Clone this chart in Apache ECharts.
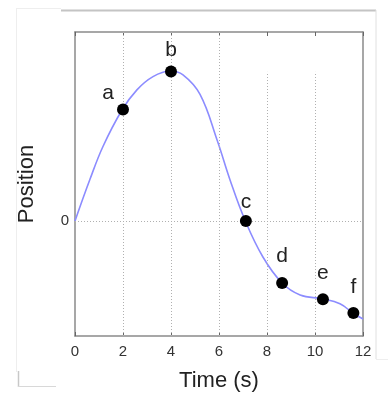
<!DOCTYPE html>
<html>
<head>
<meta charset="utf-8">
<script src="https://cdn.jsdelivr.net/npm/echarts@6/dist/echarts.min.js"></script>
<style>
  html, body { margin: 0; padding: 0; background: #fff; }
  #chart { width: 388px; height: 404px; }
</style>
</head>
<body>
<div id="chart"></div>
<script>
// curve (time, position)
let curveT = [0, 0.62, 1.17, 1.96, 2.58, 3.25, 3.96, 4.5, 5.21, 5.92, 6.46, 7.08, 7.83, 8.63, 9.38, 10.33, 11.04, 11.58, 12];
let curveY = [0, 0.36, 0.65, 0.965, 1.14, 1.255, 1.304, 1.27, 1.1, 0.704, 0.357, 0.009, -0.313, -0.539, -0.643, -0.678, -0.72, -0.8, -0.852];

// labelled points
let pointNames = ['a', 'b', 'c', 'd', 'e', 'f'];
let pointT = [2, 4, 7.12, 8.63, 10.33, 11.6];
let pointY = [0.97, 1.30, 0, -0.54, -0.68, -0.80];

let xTicks = [0, 2, 4, 6, 8, 10, 12];
let yTicks = [0];
// vertical grid lines: 8 and 10 stop short of the top in the original
let gridX = [2, 4, 6, 8, 10];
let gridTop = [1.643, 1.643, 1.643, 1.296, 1.296];

let yMin = -1, yMax = 1.643;

let labelStyle = {
  a: { position: 'left', offset: [2, -16] },
  b: { position: 'top', distance: 5 },
  c: { position: 'top', distance: 2 },
  d: { position: 'top', distance: 10 },
  e: { position: 'top', distance: 9 },
  f: { position: 'top', distance: 9 }
};

let chart = echarts.init(document.getElementById('chart'));

let font = 'Liberation Sans, Arial, Helvetica, sans-serif';
let frameLine = { show: true, onZero: false, lineStyle: { color: '#8a8a8a', width: 1.5 } };

let option = {
  animation: false,
  backgroundColor: '#fff',
  grid: { left: 75, right: 25, top: 32, bottom: 68, containLabel: false },
  xAxis: [
    {
      type: 'value', min: 0, max: 12, interval: 2,
      name: 'Time (s)', nameLocation: 'middle', nameGap: 34,
      nameTextStyle: { fontFamily: font, fontSize: 22, color: '#222' },
      axisLine: frameLine,
      axisTick: { show: true, inside: true, length: 4, lineStyle: { color: '#666' } },
      axisLabel: {
        fontFamily: font, fontSize: 15, color: '#333', margin: 8,
        formatter: v => xTicks.indexOf(v) >= 0 ? String(v) : ''
      },
      splitLine: { show: false }
    },
    {
      type: 'value', min: 0, max: 12, interval: 2, position: 'top',
      axisLine: frameLine,
      axisTick: { show: true, inside: true, length: 4, lineStyle: { color: '#666' } },
      axisLabel: { show: false },
      splitLine: { show: false }
    }
  ],
  yAxis: [
    {
      type: 'value', min: yMin, max: yMax,
      name: 'Position', nameLocation: 'middle', nameGap: 37,
      nameTextStyle: { fontFamily: font, fontSize: 22, color: '#222' },
      axisLine: frameLine,
      axisTick: { show: false },
      axisLabel: {
        fontFamily: font, fontSize: 15, color: '#333', margin: 6,
        customValues: yTicks
      },
      splitLine: { show: false }
    },
    {
      type: 'value', min: yMin, max: yMax, position: 'right',
      axisLine: frameLine,
      axisTick: { show: false },
      axisLabel: { show: false },
      splitLine: { show: false }
    }
  ],
  series: [
    {
      type: 'line',
      data: curveT.map((t, i) => [t, curveY[i]]),
      smooth: 0.4,
      showSymbol: false,
      lineStyle: { color: '#8c8cff', width: 1.6 },
      z: 3,
      markLine: {
        silent: true,
        symbol: 'none',
        label: { show: false },
        lineStyle: { color: '#b0b0b0', type: [1, 2], width: 1 },
        data: gridX.map((x, i) => [{ coord: [x, yMin] }, { coord: [x, gridTop[i]] }])
          .concat(yTicks.map(y => [{ coord: [0, y] }, { coord: [12, y] }]))
      }
    },
    {
      type: 'scatter',
      symbol: 'circle',
      symbolSize: 12,
      itemStyle: { color: '#000', opacity: 1 },
      z: 5,
      data: pointNames.map((n, i) => ({
        name: n,
        value: [pointT[i], pointY[i]],
        label: Object.assign({
          show: true, formatter: n,
          fontFamily: font, fontSize: 21, color: '#222'
        }, labelStyle[n])
      }))
    }
  ],
  graphic: [
    // screenshot frame leftovers around the figure
    { type: 'line', shape: { x1: 16, y1: 8.5, x2: 61, y2: 8.5 }, style: { stroke: '#eee', lineWidth: 1 } },
    { type: 'line', shape: { x1: 61, y1: 10.5, x2: 376, y2: 10.5 }, style: { stroke: '#c4c4c4', lineWidth: 2 } },
    { type: 'line', shape: { x1: 376, y1: 10, x2: 376, y2: 359 }, style: { stroke: '#e0e0e0', lineWidth: 1 } },
    { type: 'line', shape: { x1: 376, y1: 359.5, x2: 388, y2: 359.5 }, style: { stroke: '#eee', lineWidth: 1 } },
    { type: 'line', shape: { x1: 16.5, y1: 8, x2: 16.5, y2: 372 }, style: { stroke: '#eee', lineWidth: 1 } },
    { type: 'line', shape: { x1: 18.5, y1: 371, x2: 18.5, y2: 387 }, style: { stroke: '#c8c8c8', lineWidth: 1.5 } },
    { type: 'line', shape: { x1: 18, y1: 386.5, x2: 56, y2: 386.5 }, style: { stroke: '#d8d8d8', lineWidth: 1 } }
  ]
};

chart.setOption(option);
</script>
</body>
</html>
